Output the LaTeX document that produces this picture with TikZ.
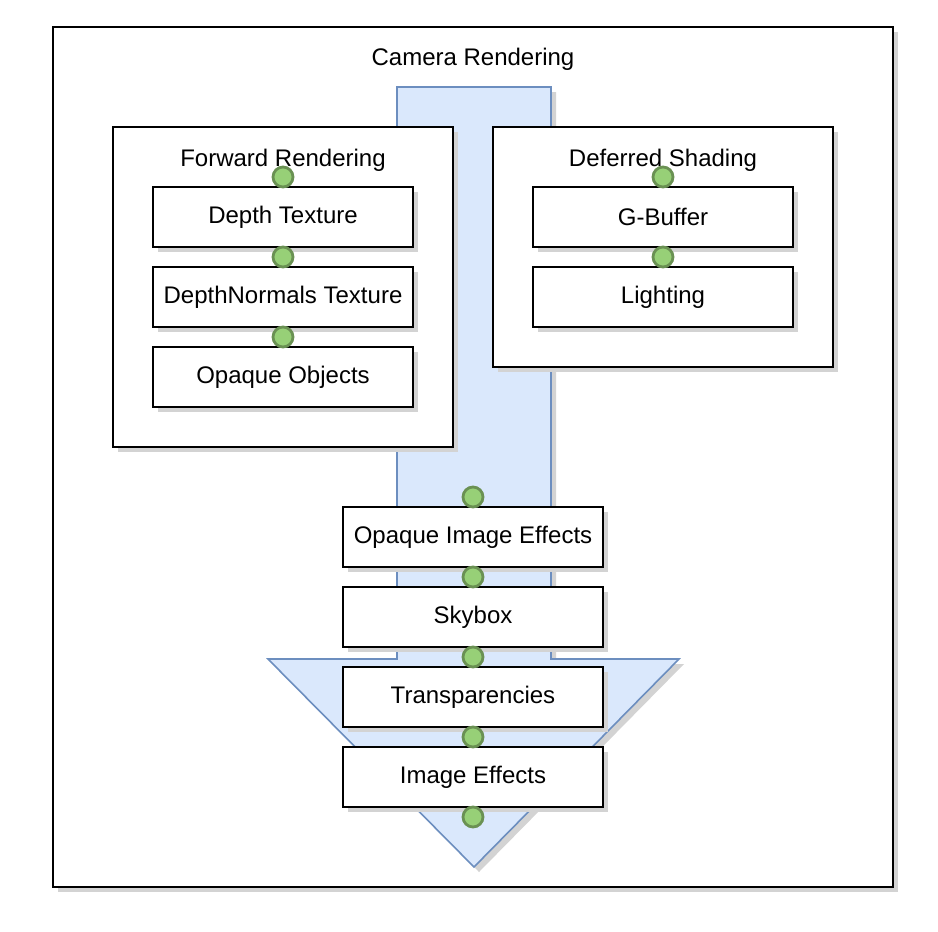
\documentclass[tikz,border=0pt]{standalone}
\usepackage{fontspec}
\setmainfont{Liberation Sans}
\usetikzlibrary{positioning,shadows}
\definecolor{arrowfill}{HTML}{DAE8FC}
\definecolor{arrowline}{HTML}{6C8EBF}
\definecolor{dotfill}{HTML}{97D077}
\definecolor{dotline}{HTML}{6A9153}
\definecolor{shade}{HTML}{D3D3D3}

\begin{document}
\begin{tikzpicture}[x=0.5pt,y=-0.5pt,
	font=\fontsize{12}{14}\selectfont,
	shade/.style={drop shadow={shadow xshift=2.5pt,shadow yshift=-2.5pt,fill=shade,opacity=1}},
	frame/.style={draw,line width=1pt,fill=white,inner sep=0pt,outer sep=0pt,shade},
	box/.style={frame,minimum width=130pt,minimum height=30pt},
	dot/.style={fill=dotfill,draw=dotline,line width=1.4pt},
	node distance=10pt]
\useasboundingbox (0,0) rectangle (938,932);
% outer frame
\node[frame,minimum width=420pt,minimum height=430pt] (camera) at (473,457) {};
\node at ([yshift=-16pt]camera.north) {Camera Rendering};
% big arrow
\filldraw[fill=arrowfill,draw=arrowline,line width=0.8pt,shade]
	(397,87) -- (551,87) -- (551,659) -- (679,659) -- (474,867)
	-- (268,659) -- (397,659) -- cycle;
% forward rendering
\node[frame,minimum width=170pt,minimum height=160pt] (fwd) at (283,287) {};
\node at ([yshift=-16.5pt]fwd.north) {Forward Rendering};
\node[box] (depth) at (283,217) {Depth Texture};
\node[box,below=of depth] (dnorm) {DepthNormals Texture};
\node[box,below=of dnorm] (opaque) {Opaque Objects};
% deferred shading
\node[frame,minimum width=170pt,minimum height=120pt] (dfr) at (663,247) {};
\node at ([yshift=-16.5pt]dfr.north) {Deferred Shading};
\node[box] (gbuf) at (663,217) {G-Buffer};
\node[box,below=of gbuf] (light) {Lighting};
% after opaque
\node[box] (opie) at (473,537) {Opaque Image Effects};
\node[box,below=of opie] (sky) {Skybox};
\node[box,below=of sky] (transp) {Transparencies};
\node[box,below=of transp] (imfx) {Image Effects};
% dots
\foreach \n in {depth,gbuf,opie}
	\filldraw[dot] ([yshift=5pt]\n.north) circle (5pt);
\foreach \n in {depth,dnorm,gbuf,opie,sky,transp,imfx}
	\filldraw[dot] ([yshift=-5pt]\n.south) circle (5pt);
\end{tikzpicture}
\end{document}
